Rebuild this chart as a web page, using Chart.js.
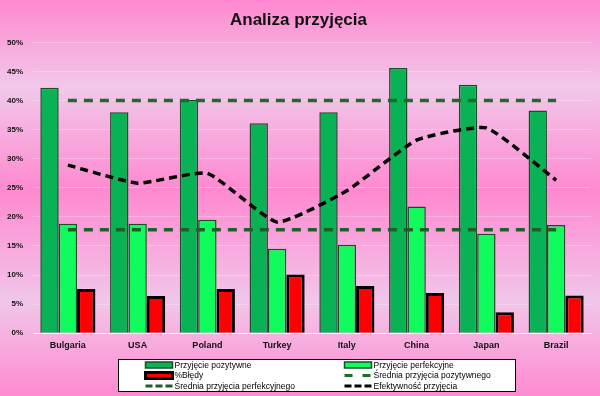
<!DOCTYPE html>
<html>
<head>
<meta charset="utf-8">
<script src="https://cdn.jsdelivr.net/npm/chart.js@4.4.1/dist/chart.umd.min.js"></script>
<style>
  html, body { margin: 0; padding: 0; }
  body {
    width: 600px; height: 396px; overflow: hidden;
    background: linear-gradient(to bottom, #ff88cf 0%, #f1c8ea 22%, #ff89d0 48%, #f1c6ea 76%, #ff8ad0 100%);
  }
  #wrap { width: 600px; height: 396px; position: relative; }
</style>
</head>
<body>
<div id="wrap"><canvas id="chart"></canvas></div>
<script>
// Chart data
const countries = ['Bulgaria', 'USA', 'Poland', 'Turkey', 'Italy', 'China', 'Japan', 'Brazil'];
const positive = [42.2, 38.0, 40.1, 36.1, 38.0, 45.6, 42.7, 38.3];
const perfect = [18.8, 18.8, 19.5, 14.5, 15.2, 21.8, 17.1, 18.6];
const errors = [7.6, 6.4, 7.6, 10.1, 8.1, 6.9, 3.6, 6.5];
const avgPositive = [40, 40, 40, 40, 40, 40, 40, 40];
const avgPerfect = [17.8, 17.8, 17.8, 17.8, 17.8, 17.8, 17.8, 17.8];
const efficiency = [28.9, 25.8, 27.5, 19.1, 24.5, 33.2, 35.3, 26.3];

const tickFont = { family: 'Liberation Sans', size: 8, weight: 'bold' };

// Two-column boxed legend under the plot
const boxLegend = {
    id: 'boxLegend',
    afterDraw(chart) {
        const ctx = chart.ctx;
        const area = chart.chartArea;
        const boxW = 397, boxH = 32;
        const left = Math.round(area.left + 85) + 0.5;
        const top = 359.5;
        ctx.save();
        ctx.fillStyle = '#ffffff';
        ctx.fillRect(left, top, boxW, boxH);
        ctx.strokeStyle = '#000000';
        ctx.lineWidth = 1;
        ctx.strokeRect(left, top, boxW, boxH);

        ctx.font = '8.5px "Liberation Sans"';
        ctx.textBaseline = 'middle';
        chart.data.datasets.forEach((ds, i) => {
            const col = i % 2;
            const row = Math.floor(i / 2);
            const sx = left + (col === 0 ? 27 : 226);
            const cy = top + 5.5 + row * 10.5;
            if (ds.type === 'line') {
                ctx.strokeStyle = ds.borderColor;
                ctx.lineWidth = 3;
                ctx.setLineDash(ds.legendDash);
                ctx.beginPath();
                ctx.moveTo(sx, cy);
                ctx.lineTo(sx + 27, cy);
                ctx.stroke();
                ctx.setLineDash([]);
            } else {
                ctx.fillStyle = ds.backgroundColor;
                ctx.strokeStyle = ds.borderColor;
                ctx.lineWidth = ds.legendBorder;
                ctx.fillRect(sx, cy - 3, 27, 6);
                ctx.strokeRect(sx, cy - 3, 27, 6);
            }
            ctx.fillStyle = '#000000';
            ctx.fillText(ds.label, sx + 29, cy + 0.5);
        });
        ctx.restore();
    }
};

new Chart(document.getElementById('chart'), {
    data: {
        labels: countries,
        datasets: [
            {
                type: 'bar',
                label: 'Przyjęcie pozytywne',
                data: positive,
                backgroundColor: '#08b255',
                borderColor: '#1d4a2a',
                borderWidth: 1.5,
                legendBorder: 1.5,
                order: 2
            },
            {
                type: 'bar',
                label: 'Przyjęcie perfekcyjne',
                data: perfect,
                backgroundColor: '#10fc5c',
                borderColor: '#1d4a2a',
                borderWidth: 1.5,
                legendBorder: 1.5,
                order: 2
            },
            {
                type: 'bar',
                label: '%Błędy',
                data: errors,
                backgroundColor: '#ff0000',
                borderColor: '#000000',
                borderWidth: 3,
                legendBorder: 3,
                order: 2
            },
            {
                type: 'line',
                label: 'Średnia przyjęcia pozytywnego',
                data: avgPositive,
                borderColor: '#1e6a2c',
                borderWidth: 3.5,
                borderDash: [9, 7],
                legendDash: [8, 10],
                pointRadius: 0,
                fill: false,
                order: 1
            },
            {
                type: 'line',
                label: 'Średnia przyjęcia perfekcyjnego',
                data: avgPerfect,
                borderColor: '#1e5e2a',
                borderWidth: 3.5,
                borderDash: [9, 7],
                legendDash: [7, 3],
                pointRadius: 0,
                fill: false,
                order: 1
            },
            {
                type: 'line',
                label: 'Efektywność przyjęcia',
                data: efficiency,
                borderColor: '#000000',
                borderWidth: 3.5,
                borderDash: [8, 5],
                legendDash: [7, 3],
                pointRadius: 0,
                tension: 0.15,
                fill: false,
                order: 0
            }
        ]
    },
    options: {
        responsive: true,
        maintainAspectRatio: false,
        animation: false,
        layout: { padding: { left: 6, right: 9, top: 0, bottom: 38 } },
        datasets: {
            bar: { categoryPercentage: 0.79, barPercentage: 1.0 }
        },
        plugins: {
            legend: { display: false },
            tooltip: { enabled: false },
            title: {
                display: true,
                text: 'Analiza przyjęcia',
                color: '#111111',
                font: { family: 'Liberation Sans', size: 17, weight: 'bold' },
                padding: { top: 10, bottom: 12 }
            }
        },
        scales: {
            x: {
                grid: { display: false, drawTicks: false },
                border: { display: true, color: 'rgba(255,255,255,0.85)', width: 1 },
                ticks: { color: '#111111', font: { family: 'Liberation Sans', size: 9, weight: 'bold' }, padding: 7 }
            },
            y: {
                min: 0,
                max: 50,
                grid: { color: 'rgba(255,255,255,0.25)', drawTicks: false },
                border: { display: false },
                ticks: {
                    stepSize: 5,
                    color: '#111111',
                    font: tickFont,
                    padding: 10,
                    callback: v => v + '%'
                },
                afterFit(scale) { scale.width = 27; }
            }
        }
    },
    plugins: [boxLegend]
});
</script>
</body>
</html>
